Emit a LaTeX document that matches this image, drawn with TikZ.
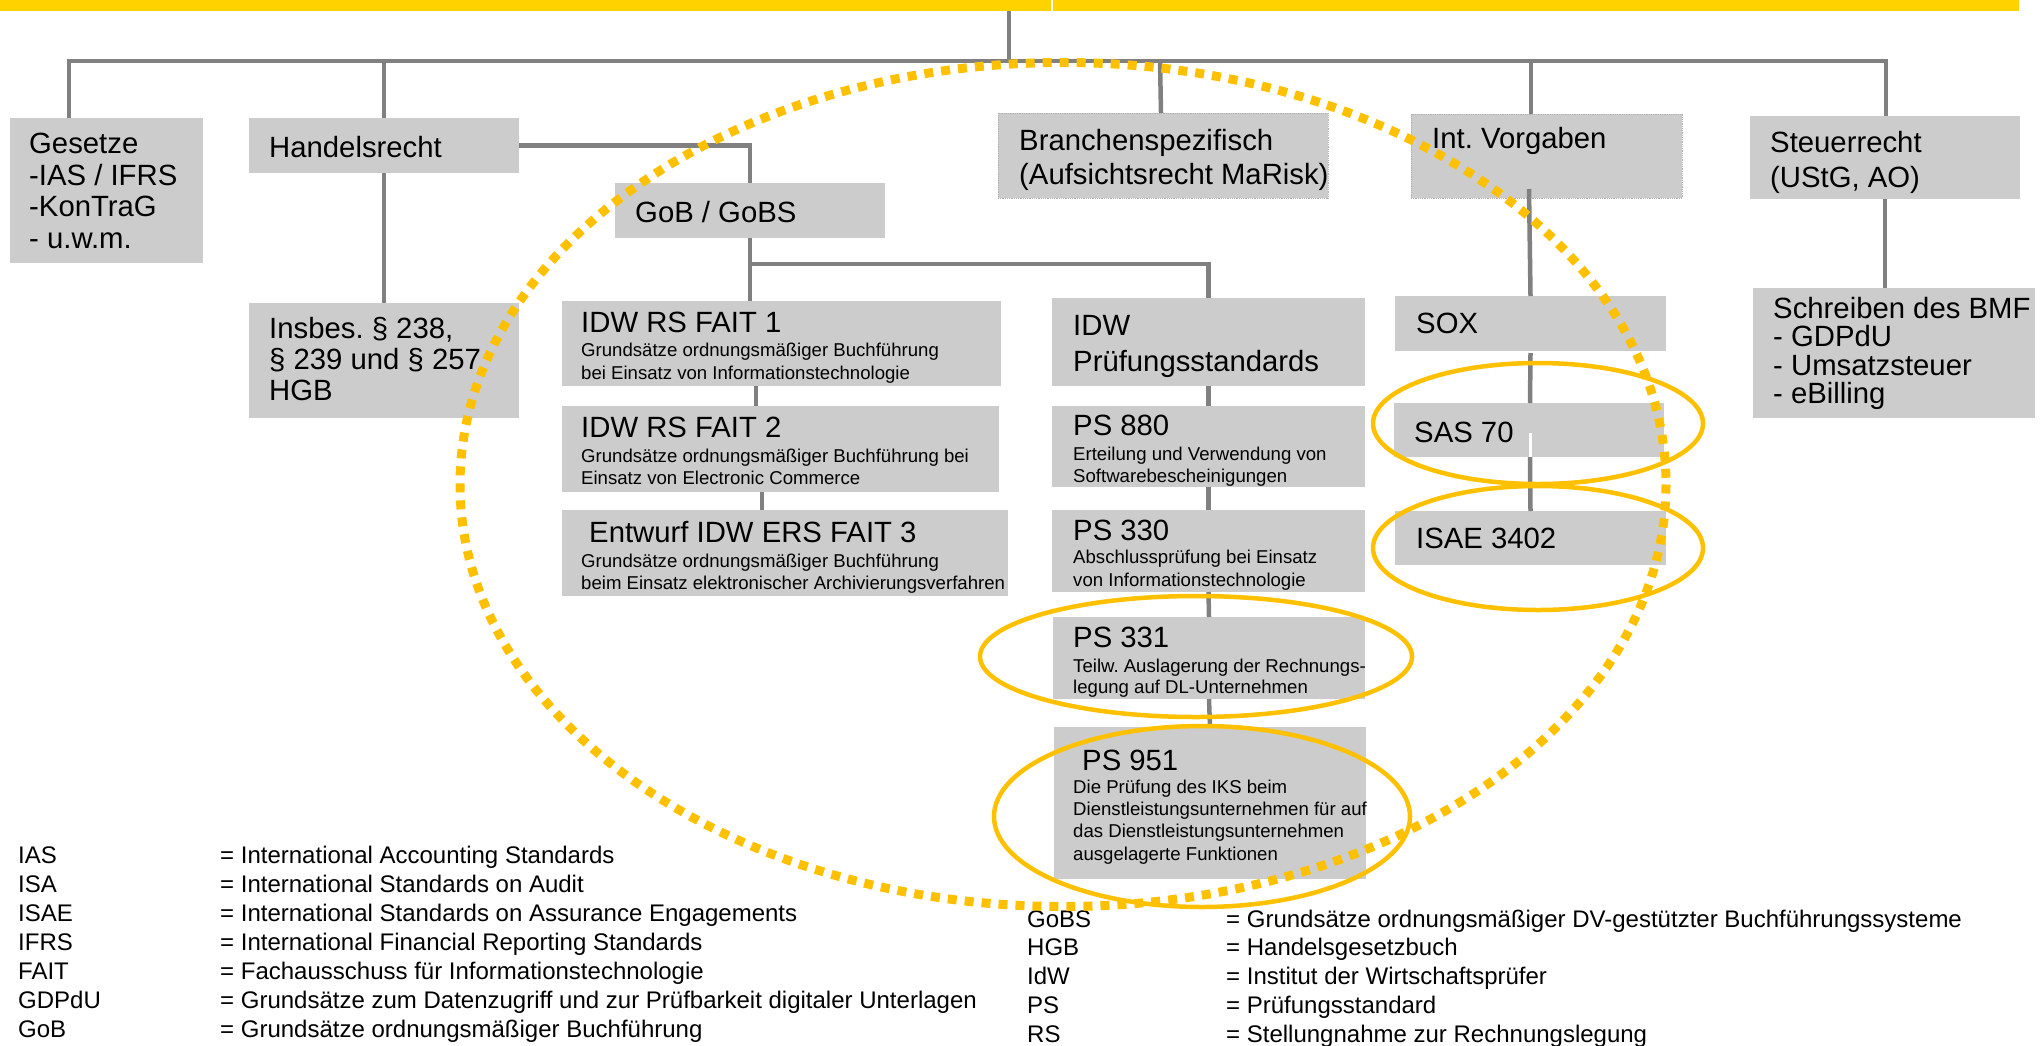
\documentclass[tikz,border=0pt]{standalone}
\usepackage{fontspec}
\setmainfont{Liberation Sans}
\frenchspacing
\definecolor{boxgray}{HTML}{CCCCCC}
\definecolor{conngray}{HTML}{808080}
\definecolor{baryellow}{HTML}{FFD200}
\definecolor{ringorange}{HTML}{FFC000}
\tikzset{
  box/.style={fill=boxgray, draw=none, inner sep=0pt, outer sep=0pt, anchor=north west},
  dotbox/.style={box, draw=black!30, densely dotted, line width=0.8pt},
  conn/.style={draw=conngray, line width=4.5pt},
  maintxt/.style={anchor=base west, inner sep=0pt, align=left, font=\fontsize{29.3}{31.5}\selectfont},
  subtxt/.style={anchor=base west, inner sep=0pt, align=left, font=\fontsize{18.6}{22.4}\selectfont},
  legtxt/.style={anchor=base west, inner sep=0pt, align=left, font=\fontsize{24}{29}\selectfont},
  ring/.style={draw=ringorange, line width=4.5pt},
  bigring/.style={draw=ringorange, line width=9pt, dash pattern=on 9pt off 8pt},
}
\begin{document}
\begin{tikzpicture}[x=1pt,y=-1pt]
\useasboundingbox (0,0) rectangle (2042,1045);
% top bar
\fill[baryellow] (0,0) rectangle (2019,11);
\draw[white, line width=1.5pt] (1052,0) -- (1052,11);

% boxes
\node[box, minimum width=193, minimum height=145] (gesetze) at (10,118) {};
\node[box, minimum width=270, minimum height=55] (handels) at (249,118) {};
\node[box, minimum width=270, minimum height=55] (gob) at (615,183) {};
\node[box, minimum width=270, minimum height=115] (insbes) at (249,303) {};
\node[box, minimum width=439, minimum height=85] (fait1) at (562,301) {};
\node[box, minimum width=437, minimum height=86] (fait2) at (562,406) {};
\node[box, minimum width=446, minimum height=86] (fait3) at (562,510) {};
\node[dotbox, minimum width=330, minimum height=85] (branchen) at (998,113) {};
\node[dotbox, minimum width=271, minimum height=84] (intv) at (1411,114) {};
\node[box, minimum width=270, minimum height=83] (steuer) at (1750,116) {};
\node[box, minimum width=313, minimum height=88] (idw) at (1052,298) {};
\node[box, minimum width=313, minimum height=81] (ps880) at (1052,406) {};
\node[box, minimum width=313, minimum height=82] (ps330) at (1052,510) {};
\node[box, minimum width=312, minimum height=82] (ps331) at (1053,617) {};
\node[box, minimum width=312, minimum height=152] (ps951) at (1054,727) {};
\node[box, minimum width=271, minimum height=55] (sox) at (1395,296) {};
\node[box, minimum width=270, minimum height=54] (sas) at (1394,403) {};
\node[box, minimum width=271, minimum height=54] (isae) at (1395,511) {};
\node[box, minimum width=282, minimum height=130] (schreiben) at (1753,288) {};

% connectors
\coordinate (top) at (1009,11);
\coordinate (busL) at (69,61);
\coordinate (busR) at (1886,61);
\coordinate (dH) at (384,61);
\coordinate (dB) at (1160,61);
\coordinate (dI) at (1531,61);
\coordinate (gobB) at (750,264);
\draw[conn] (top) -- (top |- busL);
\draw[conn] (gesetze.north -| busL) -- (busL) -- (busR) -- (steuer.north -| busR);
\draw[conn] (dH) -- (dH |- handels.north);
\draw[conn] (dB) -- ([xshift=-2pt]branchen.north);
\draw[conn] (dI) -- (dI |- intv.north);
\draw[conn] (handels.east) -| (gob.north);
\draw[conn] (handels.south) -- (insbes.north);
\draw[conn] (gob.south) -- (gob.south |- fait1.north);
\draw[conn] (gobB) -| (idw.north);
\draw[conn] ([xshift=-25.5pt]fait1.south) -- ([xshift=-24.5pt]fait2.north);
\draw[conn] ([xshift=-18.5pt]fait2.south) -- ([xshift=-23pt]fait3.north);
\draw[conn] (idw.south) -- (ps880.north);
\draw[conn] (ps880.south) -- (ps330.north);
\draw[conn] (ps330.south) -- (ps331.north);
\draw[conn] (ps331.south) -- (ps951.north);
\draw[conn] ([xshift=-17.5pt,yshift=9pt]intv.south) -- (sox.north);
\draw[conn] ([yshift=-2pt]sox.south) -- ([xshift=1pt]sas.north);
\draw[conn] ([xshift=1pt]sas.south) -- (isae.north);
\draw[white, line width=3pt] (1530,433) -- (1530,457);
\draw[conn] (steuer.south) -- (steuer.south |- schreiben.north);

% texts (multi-line nodes are anchored at the baseline of their last line)
\node[maintxt, font=\fontsize{29.3}{31.5}\selectfont] (tgesetze) at (29,248) {Gesetze\\-IAS / IFRS\\-KonTraG\\- u.w.m.};
\node[maintxt] (thandels) at (269,157) {Handelsrecht};
\node[maintxt] (tgob) at (635,222) {GoB / GoBS};
\node[maintxt, font=\fontsize{29.3}{31}\selectfont] (tinsbes) at (269,400) {Insbes. § 238,\\§ 239 und § 257\\HGB};
\node[maintxt] (tfait1) at (581,332) {IDW RS FAIT 1};
\node[subtxt, font=\fontsize{18.6}{23}\selectfont] (sfait1) at (581,379) {Grundsätze ordnungsmäßiger Buchführung\\bei Einsatz von Informationstechnologie};
\node[maintxt] (tfait2) at (581,437) {IDW RS FAIT 2};
\node[subtxt, font=\fontsize{18.6}{22}\selectfont] (sfait2) at (581,484) {Grundsätze ordnungsmäßiger Buchführung bei\\Einsatz von Electronic Commerce};
\node[maintxt] (tfait3) at (589,542) {Entwurf IDW ERS FAIT 3};
\node[subtxt, font=\fontsize{18.6}{22}\selectfont] (sfait3) at (581,589) {Grundsätze ordnungsmäßiger Buchführung\\beim Einsatz elektronischer Archivierungsverfahren};
\node[maintxt, font=\fontsize{29.3}{34}\selectfont] (tbranchen) at (1019,184) {Branchenspezifisch\\(Aufsichtsrecht MaRisk)};
\node[maintxt] (tintv) at (1432,148) {Int. Vorgaben};
\node[maintxt, font=\fontsize{29.3}{35}\selectfont] (tsteuer) at (1770,187) {Steuerrecht\\(UStG, AO)};
\node[maintxt, font=\fontsize{29.3}{36}\selectfont] (tidw) at (1073,371) {IDW\\Prüfungsstandards};
\node[maintxt] (tps880) at (1073,435) {PS 880};
\node[subtxt, font=\fontsize{18.6}{22}\selectfont] (sps880) at (1073,482) {Erteilung und Verwendung von\\Softwarebescheinigungen};
\node[maintxt] (tps330) at (1073,540) {PS 330};
\node[subtxt, font=\fontsize{18.6}{23}\selectfont] (sps330) at (1073,586) {Abschlussprüfung bei Einsatz\\von Informationstechnologie};
\node[maintxt] (tps331) at (1073,647) {PS 331};
\node[subtxt, font=\fontsize{18.6}{21.5}\selectfont] (sps331) at (1073,693.5) {Teilw. Auslagerung der Rechnungs-\\legung auf DL-Unternehmen};
\node[maintxt] (tps951) at (1082,770) {PS 951};
\node[subtxt, font=\fontsize{18.6}{22.4}\selectfont] (sps951) at (1073,860.2) {Die Prüfung des IKS beim\\Dienstleistungsunternehmen für auf\\das Dienstleistungsunternehmen\\ausgelagerte Funktionen};
\node[maintxt] (tsox) at (1416,333) {SOX};
\node[maintxt] (tsas) at (1414,442) {SAS 70};
\node[maintxt] (tisae) at (1416,548) {ISAE 3402};
\node[maintxt, font=\fontsize{29.3}{28.5}\selectfont] (tschreiben) at (1773,403.5) {Schreiben des BMF\\- GDPdU\\- Umsatzsteuer\\- eBilling};

% legend
\node[legtxt] (legLa) at (18,1037) {IAS\\ISA\\ISAE\\IFRS\\FAIT\\GDPdU\\GoB};
\node[legtxt] (legLb) at (220,1037) {= International Accounting Standards\\= International Standards on Audit\\= International Standards on Assurance Engagements\\= International Financial Reporting Standards\\= Fachausschuss für Informationstechnologie\\= Grundsätze zum Datenzugriff und zur Prüfbarkeit digitaler Unterlagen\\= Grundsätze ordnungsmäßiger Buchführung};
\node[legtxt, font=\fontsize{24}{28.75}\selectfont] (legRa) at (1027,1042) {GoBS\\HGB\\IdW\\PS\\RS};
\node[legtxt, font=\fontsize{24}{28.75}\selectfont] (legRb) at (1226,1042) {= Grundsätze ordnungsmäßiger DV-gestützter Buchführungssysteme\\= Handelsgesetzbuch\\= Institut der Wirtschaftsprüfer\\= Prüfungsstandard\\= Stellungnahme zur Rechnungslegung};

% rings
\draw[bigring] (1063,484.5) ellipse [x radius=603, y radius=422];
\draw[ring] (1538,423.5) ellipse [x radius=165, y radius=60.5];
\draw[ring] (1538,548) ellipse [x radius=165, y radius=62];
\draw[ring] (1196,656.5) ellipse [x radius=216, y radius=60.5];
\draw[ring] (1202,816.5) ellipse [x radius=208, y radius=90.5];
\end{tikzpicture}
\end{document}
